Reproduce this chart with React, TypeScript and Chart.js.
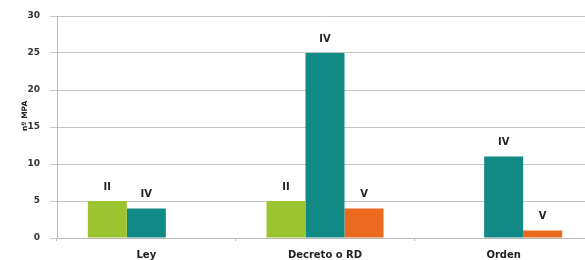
import React, { useEffect, useRef } from "react";
import { Chart, registerables } from "chart.js";

Chart.register(...registerables);

const categories = ["Ley", "Decreto o RD", "Orden"];
const seriesNames = ["II", "IV", "V"];
const valuesII = [5, 5, null];
const valuesIV = [4, 25, 11];
const valuesV = [null, 4, 1];
const colors = ["#9CC430", "#118A86", "#EB6A1F"];
const yTicks = [0, 5, 10, 15, 20, 25, 30];
const yTitle = "nº MPA";

const FONT = "'DejaVu Sans', sans-serif";

const barLabels = {
  id: "barLabels",
  afterDatasetsDraw(chart: any) {
    const ctx = chart.ctx;
    ctx.save();
    ctx.font = `bold 10px ${FONT}`;
    ctx.fillStyle = "#222";
    ctx.textAlign = "center";
    ctx.textBaseline = "middle";
    chart.data.datasets.forEach((ds: any, i: number) => {
      const meta = chart.getDatasetMeta(i);
      meta.data.forEach((el: any, j: number) => {
        const v = ds.data[j];
        if (v === null || v === undefined) return;
        ctx.fillText(ds.label, el.x, el.y - 14);
      });
    });
    ctx.restore();
  },
};

const yTitlePlugin = {
  id: "yTitlePlugin",
  afterDraw(chart: any) {
    const ctx = chart.ctx;
    const area = chart.chartArea;
    ctx.save();
    ctx.translate(25, area.top + (area.bottom - area.top) * 0.45);
    ctx.rotate(-Math.PI / 2);
    ctx.font = `bold 7.5px ${FONT}`;
    ctx.fillStyle = "#222";
    ctx.textAlign = "center";
    ctx.textBaseline = "middle";
    ctx.fillText(yTitle, 0, 0);
    ctx.restore();
  },
};

export default function App() {
  const ref = useRef<HTMLCanvasElement>(null);
  useEffect(() => {
    document.body.style.margin = "0";
    document.body.style.overflow = "hidden";
    const seriesData = [valuesII, valuesIV, valuesV];
    const chart = new Chart(ref.current!, {
      type: "bar",
      data: {
        labels: categories,
        datasets: seriesNames.map((name, i) => ({
          label: name,
          data: seriesData[i],
          backgroundColor: colors[i],
          borderWidth: 0,
          categoryPercentage: 0.655,
          barPercentage: 1,
          skipNull: false,
        })),
      },
      options: {
        animation: false,
        responsive: false,
        maintainAspectRatio: false,
        layout: { padding: { top: 16, right: 7, left: 0, bottom: 0 } },
        plugins: { legend: { display: false }, tooltip: { enabled: false } },
        scales: {
          x: {
            grid: {
              display: true,
              drawOnChartArea: false,
              offset: true,
              tickLength: 3,
              color: "#BBBBBB",
            },
            border: { display: true, color: "#BBBBBB" },
            ticks: {
              color: "#222",
              font: { family: FONT, size: 10, weight: "bold" },
              padding: 8,
            },
            afterFit: (s: any) => {
              s.height = 22;
            },
          },
          y: {
            min: 0,
            max: 30,
            afterBuildTicks: (s: any) => {
              s.ticks = yTicks.map((v) => ({ value: v }));
            },
            grid: { color: "#C4C4C4", tickLength: 7, drawTicks: true },
            border: { display: true, color: "#BBBBBB" },
            ticks: {
              color: "#333",
              font: { family: FONT, size: 9, weight: "bold" },
              padding: 10,
            },
            afterFit: (s: any) => {
              s.width = 57;
            },
          },
        },
      },
      plugins: [barLabels, yTitlePlugin],
    });
    return () => chart.destroy();
  }, []);
  return (
    <div style={{ position: "absolute", left: 0, top: 0, width: 600, height: 260 }}>
      <canvas ref={ref} width={600} height={260} style={{ width: 600, height: 260 }} />
    </div>
  );
}
